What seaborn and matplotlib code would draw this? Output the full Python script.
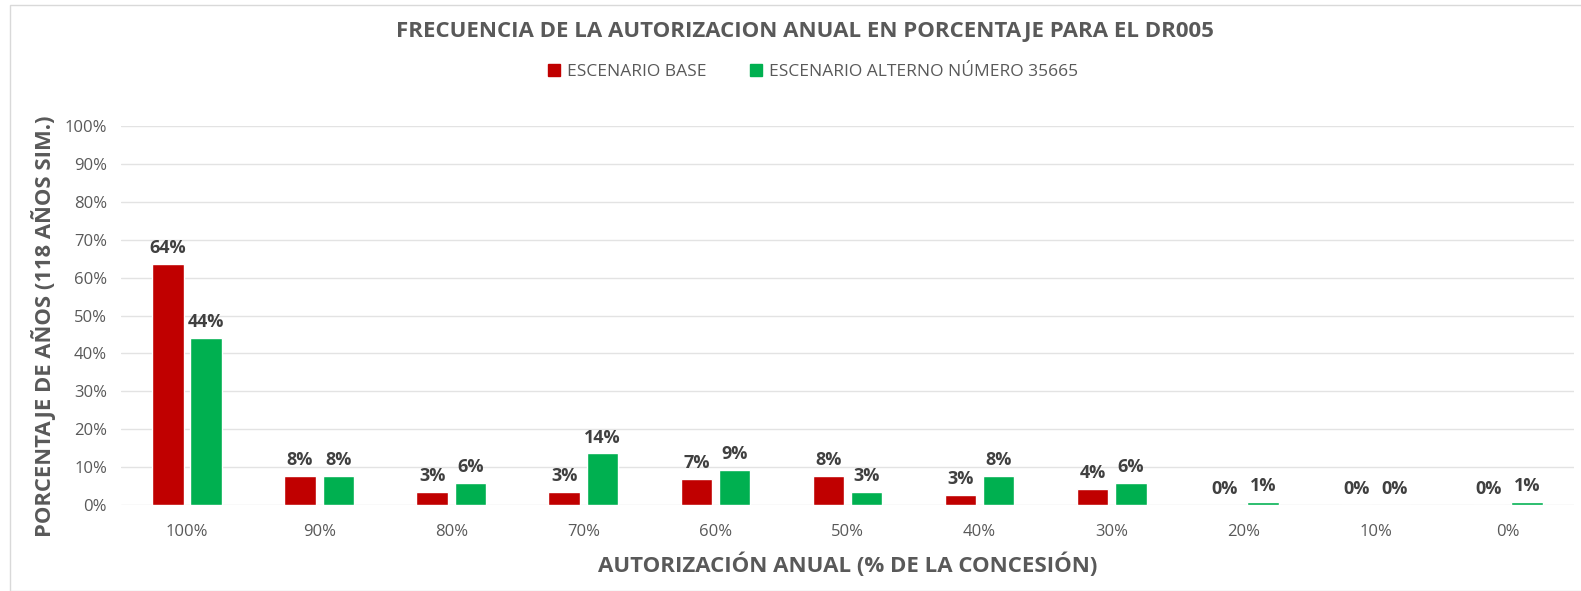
import pandas as pd
import matplotlib.pyplot as plt
import seaborn as sns
from matplotlib.patches import Rectangle

# datos
categorias = ['100%', '90%', '80%', '70%', '60%', '50%', '40%', '30%', '20%', '10%', '0%']
base = [63.6, 7.6, 3.4, 3.4, 6.8, 7.6, 2.6, 4.2, 0, 0, 0]
alterno = [44.1, 7.6, 5.9, 13.6, 9.3, 3.4, 7.6, 5.9, 0.85, 0, 0.85]
series = ['ESCENARIO BASE', 'ESCENARIO ALTERNO NÚMERO 35665']
colores = ['#C00000', '#00B050']

df = pd.DataFrame({
    'cat': categorias * 2,
    'val': base + alterno,
    'serie': [series[0]] * len(categorias) + [series[1]] * len(categorias),
})

sns.set_style('white')
plt.rcParams['font.family'] = ['Open Sans', 'DejaVu Sans']

fig = plt.figure(figsize=(15.81, 5.91), dpi=100)
fig.patches.append(Rectangle((10 / 1581, 0), 1, 1 - 5 / 591, transform=fig.transFigure,
                             facecolor='white', edgecolor='#d9d9d9', linewidth=1, zorder=-1))
ax = fig.add_axes([121 / 1581, 1 - 505 / 591, (1574 - 121) / 1581, (505 - 126) / 591])
ax.set_facecolor('none')

sns.barplot(data=df, x='cat', y='val', hue='serie', palette=colores, width=0.58, gap=0.18,
            order=categorias, hue_order=series, ax=ax, saturation=1, legend=False, zorder=3)

for cont in ax.containers:
    ax.bar_label(cont, labels=[f'{v:.0f}%' for v in cont.datavalues], padding=5,
                 fontsize=13, fontweight='bold', color='#404040')

ax.set_ylim(0, 100)
ax.set_xlim(-0.5, 10.5)
ax.set_yticks(range(0, 101, 10))
ax.set_yticklabels([f'{t}%' for t in range(0, 101, 10)])
ax.yaxis.grid(True, color='#e3e3e3', linewidth=1, zorder=0)
ax.set_axisbelow(True)
sns.despine(ax=ax, left=True, bottom=True)
ax.tick_params(axis='both', length=0, labelsize=12, labelcolor='#595959')
ax.tick_params(axis='x', pad=14)
ax.tick_params(axis='y', pad=10)

ax.set_xlabel('AUTORIZACIÓN ANUAL (% DE LA CONCESIÓN)', fontsize=16, fontweight='bold',
              color='#595959', labelpad=9)
ax.set_ylabel('PORCENTAJE DE AÑOS (118 AÑOS SIM.)', fontsize=15.8, fontweight='bold',
              color='#595959')
ax.yaxis.set_label_coords(-0.045, 0.472)

fig.text(0.509, 1 - 32 / 591, 'FRECUENCIA DE LA AUTORIZACION ANUAL EN PORCENTAJE PARA EL DR005',
         ha='center', va='center', fontsize=16, fontweight='bold', color='#595959')

manejadores = [Rectangle((0, 0), 1, 1, color=c) for c in colores]
fig.legend(manejadores, series, loc='center', bbox_to_anchor=(0.514, 1 - 72 / 591), ncol=2,
           frameon=False, handlelength=0.7, handleheight=0.7, handletextpad=0.4, columnspacing=2.5,
           prop={'size': 12.5}, labelcolor='#595959')

fig.savefig('out.png', dpi=100)
